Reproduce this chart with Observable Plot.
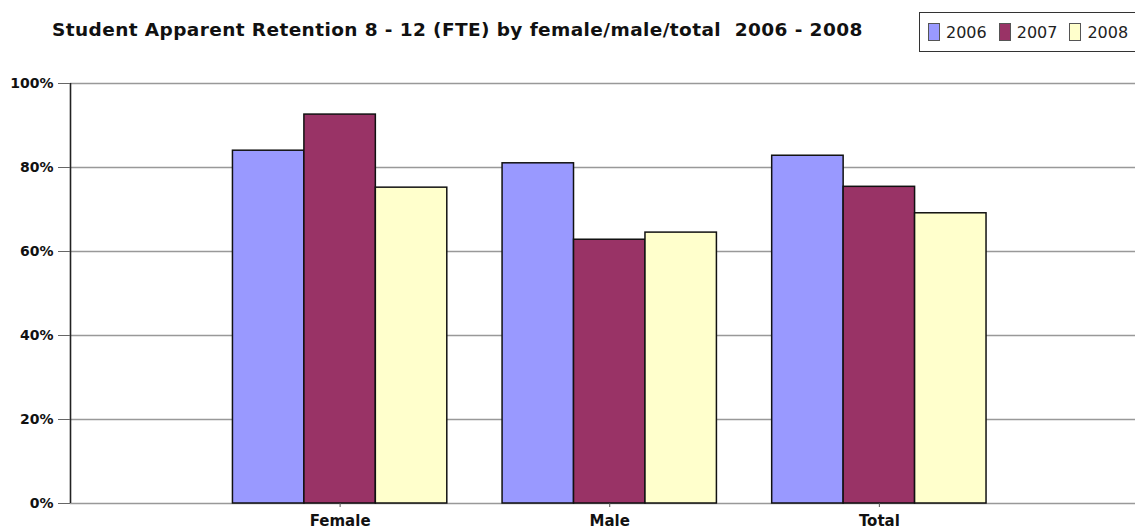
<!DOCTYPE html>
<html>
<head>
<meta charset="utf-8">
<script src="https://cdn.jsdelivr.net/npm/d3@7"></script>
<script src="https://cdn.jsdelivr.net/npm/@observablehq/plot@0.6"></script>
<style>
  html, body { margin: 0; padding: 0; background: #fff; }
  body { width: 1135px; height: 529px; overflow: hidden; font-family: "DejaVu Sans", sans-serif; }
  #header { position: relative; height: 60px; }
  #title { position: absolute; left: 52px; top: 21px; font-size: 18.5px; line-height: 18px; letter-spacing: 0.4px; font-weight: bold; color: #111; white-space: pre; }
  #legend { position: absolute; left: 919px; top: 12px; width: 240px; height: 40px; border: 1.5px solid #333; box-sizing: border-box; display: flex; align-items: center; padding-left: 8px; font-size: 16px; color: #222; }
  .item { display: flex; align-items: center; margin-right: 12px; }
  .sw { width: 12px; height: 18px; border: 1.5px solid #555; margin-right: 6px; box-sizing: border-box; }
</style>
</head>
<body>
<div id="header">
  <div id="title"></div>
  <div id="legend"></div>
</div>
<div id="chart"></div>
<script>
const categories = ["Female", "Male", "Total"];
const years = ["2006", "2007", "2008"];
const values2006 = [84.0, 81.0, 82.8];
const values2007 = [92.6, 62.8, 75.4];
const values2008 = [75.2, 64.5, 69.1];
const yTicks = [0, 20, 40, 60, 80, 100];
const colors = ["#9999FF", "#993366", "#FFFFCC"];
const titleText = "Student Apparent Retention 8 - 12 (FTE) by female/male/total  2006 - 2008";

document.getElementById("title").textContent = titleText;
const legend = document.getElementById("legend");
years.forEach((y, i) => {
  const it = document.createElement("div");
  it.className = "item";
  const sw = document.createElement("div");
  sw.className = "sw";
  sw.style.background = colors[i];
  it.appendChild(sw);
  it.appendChild(document.createTextNode(y));
  legend.appendChild(it);
});

const series = [values2006, values2007, values2008];
const barWidth = 0.265; // fraction of category step
const rows = [];
categories.forEach((c, ci) => {
  years.forEach((y, yi) => {
    const center = ci + (yi - 1) * barWidth;
    rows.push({category: c, year: y, value: series[yi][ci], x1: center - barWidth / 2, x2: center + barWidth / 2});
  });
});

const xMin = -1, xMax = 2.95;
const chart = Plot.plot({
  width: 1135,
  height: 469,
  marginLeft: 70,
  marginRight: 0,
  marginTop: 23,
  marginBottom: 26,
  style: {fontFamily: "'DejaVu Sans', sans-serif", background: "#fff", overflow: "visible"},
  x: {domain: [xMin, xMax], axis: null},
  y: {domain: [0, 100], axis: null},
  color: {domain: years, range: colors},
  marks: [
    Plot.ruleY(yTicks, {y: d => d, x1: xMin, x2: xMax, stroke: "#999", strokeWidth: 1.6}),
    Plot.rectY(rows, {x1: "x1", x2: "x2", y: "value", fill: "year", stroke: "#111", strokeWidth: 1.5}),
    Plot.ruleX([xMin], {y1: 0, y2: 100, stroke: "#222", strokeWidth: 1.6}),
    Plot.axisY({ticks: yTicks, tickFormat: d => d + "%", label: null, tickSize: 12, tickPadding: 5, fontSize: 14, fontWeight: "bold", stroke: "#666", fill: "#111", anchor: "left"}),
    Plot.axisX({ticks: [0, 1, 2], tickFormat: d => categories[d], label: null, tickSize: 4, tickPadding: 8, fontSize: 15, fontWeight: "bold", stroke: "#555", fill: "#111", anchor: "bottom"})
  ]
});
document.getElementById("chart").appendChild(chart);
</script>
</body>
</html>
